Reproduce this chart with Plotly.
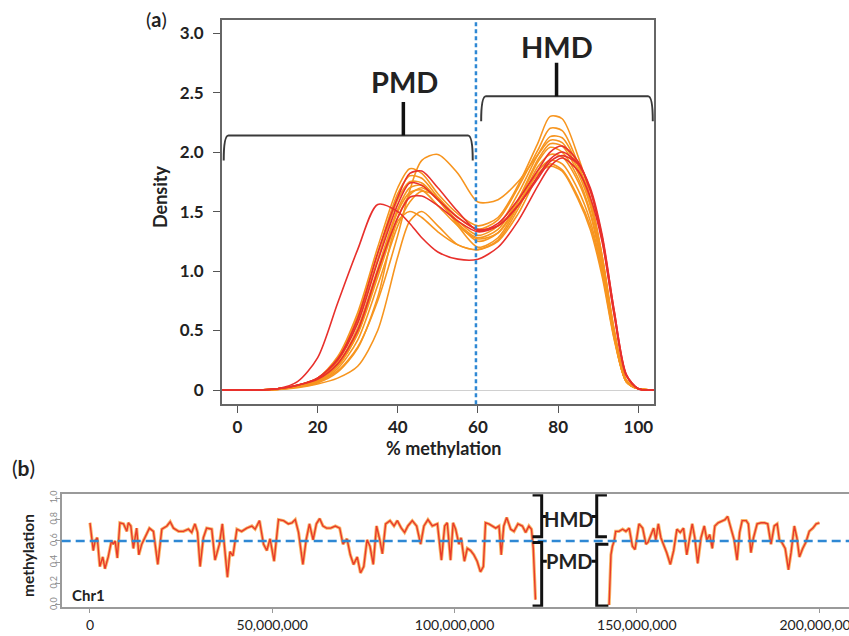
import plotly.graph_objects as go

# ---------------- Panel (a): density curves ----------------
meth_pct = [-4, 0, 5, 10, 15, 20, 25, 30, 35, 40, 43, 46, 50, 55, 60, 65, 70, 75, 78, 81, 85, 88, 91, 94, 97, 100, 104]

red_R1 = [0, 0, 0, 0.01, 0.07, 0.27, 0.73, 1.18, 1.56, 1.5, 1.4, 1.28, 1.16, 1.1, 1.1, 1.2, 1.42, 1.72, 1.88, 1.95, 1.84, 1.62, 1.24, 0.62, 0.12, 0.01, 0]
red_R2 = [0, 0, 0, 0.01, 0.04, 0.1, 0.26, 0.6, 1.15, 1.62, 1.82, 1.84, 1.7, 1.5, 1.34, 1.4, 1.6, 1.85, 2.0, 2.05, 1.92, 1.68, 1.26, 0.64, 0.12, 0.01, 0]
red_R3 = [0, 0, 0, 0.01, 0.04, 0.09, 0.22, 0.5, 1.0, 1.45, 1.62, 1.63, 1.55, 1.42, 1.33, 1.38, 1.55, 1.8, 1.94, 2.0, 1.9, 1.68, 1.28, 0.66, 0.13, 0.01, 0]
red_R4 = [0, 0, 0, 0.01, 0.04, 0.1, 0.25, 0.56, 1.08, 1.56, 1.74, 1.72, 1.6, 1.45, 1.35, 1.38, 1.55, 1.78, 1.92, 1.97, 1.9, 1.7, 1.3, 0.66, 0.13, 0.01, 0]

orange_O1 = [0, 0, 0, 0.005, 0.03, 0.07, 0.16, 0.36, 0.75, 1.3, 1.68, 1.93, 1.98, 1.82, 1.58, 1.6, 1.75, 1.98, 2.1, 2.08, 1.85, 1.58, 1.12, 0.5, 0.08, 0.01, 0]
orange_O2 = [0, 0, 0, 0.01, 0.04, 0.1, 0.28, 0.65, 1.2, 1.7, 1.86, 1.82, 1.65, 1.48, 1.38, 1.45, 1.72, 2.08, 2.3, 2.28, 1.96, 1.62, 1.12, 0.5, 0.08, 0.01, 0]
orange_O3 = [0, 0, 0, 0.01, 0.04, 0.1, 0.26, 0.62, 1.15, 1.65, 1.8, 1.78, 1.62, 1.45, 1.35, 1.43, 1.7, 2.02, 2.2, 2.18, 1.9, 1.6, 1.1, 0.48, 0.08, 0.01, 0]
orange_O4 = [0, 0, 0, 0.01, 0.04, 0.09, 0.24, 0.58, 1.1, 1.6, 1.75, 1.74, 1.6, 1.42, 1.3, 1.38, 1.65, 1.98, 2.13, 2.12, 1.88, 1.58, 1.1, 0.48, 0.08, 0.01, 0]
orange_O5 = [0, 0, 0, 0.01, 0.035, 0.08, 0.22, 0.52, 1.02, 1.52, 1.7, 1.72, 1.6, 1.4, 1.28, 1.35, 1.6, 1.94, 2.07, 2.05, 1.82, 1.55, 1.08, 0.47, 0.08, 0.01, 0]
orange_O6 = [0, 0, 0, 0.01, 0.03, 0.07, 0.2, 0.47, 0.95, 1.45, 1.64, 1.7, 1.6, 1.4, 1.25, 1.32, 1.58, 1.92, 2.04, 2.0, 1.78, 1.5, 1.05, 0.45, 0.07, 0.01, 0]
orange_O7 = [0, 0, 0, 0.005, 0.03, 0.07, 0.18, 0.42, 0.88, 1.38, 1.58, 1.67, 1.62, 1.38, 1.2, 1.28, 1.55, 1.88, 1.98, 1.96, 1.75, 1.48, 1.03, 0.45, 0.07, 0.01, 0]
orange_O8 = [0, 0, 0, 0.005, 0.025, 0.06, 0.15, 0.35, 0.78, 1.42, 1.5, 1.45, 1.33, 1.22, 1.18, 1.26, 1.52, 1.84, 1.93, 1.9, 1.68, 1.42, 1.0, 0.44, 0.07, 0.01, 0]
orange_O9 = [0, 0, 0, 0.005, 0.02, 0.05, 0.1, 0.2, 0.5, 1.12, 1.42, 1.5, 1.38, 1.22, 1.18, 1.25, 1.48, 1.8, 1.9, 1.85, 1.62, 1.38, 0.98, 0.43, 0.07, 0.01, 0]
orange_O10 = [0, 0, 0, 0.01, 0.03, 0.08, 0.2, 0.48, 0.98, 1.5, 1.66, 1.68, 1.55, 1.38, 1.27, 1.32, 1.55, 1.82, 1.88, 1.84, 1.6, 1.35, 0.95, 0.42, 0.07, 0.01, 0]

orange_curves = [orange_O1, orange_O2, orange_O3, orange_O4, orange_O5,
                 orange_O6, orange_O7, orange_O8, orange_O9, orange_O10]
red_curves = [red_R1, red_R2, red_R3, red_R4]

x_ticks_a = [0, 20, 40, 60, 80, 100]
y_ticks_a = [0, 0.5, 1.0, 1.5, 2.0, 2.5, 3.0]
y_ticklabels_a = ["0", "0.5", "1.0", "1.5", "2.0", "2.5", "3.0"]
threshold_pct = 59.5

# ---------------- Panel (b): Chr1 methylation profile (positions in Mb) ----------------
chr1_pos_mb = [
    0.0, 0.9, 1.4, 2.0, 2.7, 3.5, 4.1, 5.0, 5.9, 6.4, 6.9, 7.5, 8.2, 9.2, 10.1, 10.5, 11.2, 11.9, 12.8, 13.4,
    14.2, 15.1, 16.3, 17.4, 18.6, 19.7, 21.1, 22.0, 22.9, 24.3, 25.6, 27.0, 27.9, 28.8, 29.5, 30.2, 31.1, 32.0,
    33.4, 34.3, 35.5, 36.3, 37.0, 37.7, 38.4, 39.2, 40.3, 41.6, 43.0, 44.4, 45.3, 46.5, 47.6, 48.5, 49.4, 50.5,
    51.7, 53.1, 54.4, 55.4, 56.3, 57.2, 58.4, 59.3, 60.2, 61.2, 62.1, 63.0, 63.9, 64.9, 66.0, 67.3, 68.5, 69.4,
    70.5, 71.4, 72.3, 73.3, 74.2, 75.1, 76.0, 76.8, 77.7, 78.6, 79.5, 80.2, 81.1, 82.3, 83.4, 84.3, 85.4, 86.3,
    87.2, 88.4, 89.6, 90.7, 91.6, 92.7, 93.9, 95.3, 96.4, 97.3, 98.0, 98.9, 99.6, 100.3, 101.2, 101.8, 102.7,
    103.5, 104.4, 105.3, 106.2, 107.1, 107.9, 108.5, 109.4, 110.3, 111.3, 112.2, 112.8, 113.5, 114.3, 115.4,
    116.3, 117.4, 118.6, 119.5, 120.4, 121.1, 121.6, 122.2,
    None,
    142.4, 142.9, 143.3, 143.8, 144.2, 145.1, 146.1, 147.0, 147.9, 148.8, 149.5, 150.6, 151.6, 152.5, 153.1,
    153.8, 154.6, 155.2, 155.9, 156.6, 157.3, 158.2, 159.2, 160.1, 161.0, 161.9, 162.8, 163.7, 164.5, 165.2,
    165.9, 166.7, 167.6, 168.5, 169.2, 170.0, 170.7, 171.4, 172.3, 173.3, 174.2, 174.9, 175.8, 176.7, 177.5,
    178.2, 178.9, 180.0, 180.6, 181.3, 182.0, 183.0, 184.1, 185.0, 185.9, 186.8, 187.7, 188.5, 189.1, 189.7,
    190.7, 191.6, 192.3, 193.2, 193.9, 194.6, 195.5, 196.4, 197.3, 198.3, 199.2, 200.1,
]
chr1_meth = [
    0.77, 0.51, 0.60, 0.63, 0.36, 0.45, 0.34, 0.45, 0.60, 0.57, 0.60, 0.44, 0.77, 0.76, 0.69, 0.77, 0.74, 0.53, 0.72, 0.47,
    0.57, 0.63, 0.72, 0.69, 0.38, 0.71, 0.74, 0.78, 0.72, 0.69, 0.69, 0.71, 0.68, 0.76, 0.68, 0.36, 0.63, 0.72,
    0.71, 0.42, 0.57, 0.76, 0.53, 0.26, 0.50, 0.46, 0.71, 0.69, 0.72, 0.74, 0.71, 0.79, 0.57, 0.51, 0.62, 0.41,
    0.80, 0.79, 0.76, 0.77, 0.80, 0.68, 0.38, 0.61, 0.76, 0.61, 0.76, 0.81, 0.74, 0.72, 0.72, 0.74, 0.72, 0.57,
    0.62, 0.47, 0.38, 0.45, 0.30, 0.36, 0.61, 0.55, 0.38, 0.74, 0.61, 0.48, 0.76, 0.79, 0.74, 0.79, 0.72, 0.68,
    0.74, 0.79, 0.74, 0.57, 0.74, 0.80, 0.74, 0.76, 0.42, 0.74, 0.77, 0.42, 0.77, 0.71, 0.57, 0.63, 0.41,
    0.53, 0.51, 0.47, 0.41, 0.31, 0.36, 0.77, 0.76, 0.74, 0.72, 0.74, 0.47, 0.74, 0.82, 0.71,
    0.69, 0.76, 0.74, 0.68, 0.74, 0.71, 0.53, 0.05,
    None,
    0.00, 0.47, 0.55, 0.60, 0.69, 0.69, 0.71, 0.69, 0.72, 0.55, 0.52, 0.76, 0.72, 0.57, 0.59,
    0.66, 0.72, 0.61, 0.76, 0.63, 0.57, 0.49, 0.38, 0.51, 0.71, 0.68, 0.72, 0.47, 0.63, 0.76,
    0.63, 0.39, 0.63, 0.74, 0.61, 0.66, 0.53, 0.74, 0.77, 0.79, 0.80, 0.83, 0.71, 0.61, 0.42,
    0.68, 0.79, 0.79, 0.76, 0.49, 0.63, 0.76, 0.77, 0.77, 0.76, 0.57, 0.74, 0.76, 0.61, 0.59,
    0.53, 0.33, 0.49, 0.74, 0.63, 0.45, 0.53, 0.59, 0.69, 0.72, 0.76, 0.77,
]
chr1_pos_bp = [None if p is None else p * 1e6 for p in chr1_pos_mb]

x_ticks_b = [0, 50e6, 100e6, 150e6, 200e6]
x_ticklabels_b = ["0", "50,000,000", "100,000,000", "150,000,000", "200,000,000"]
y_ticks_b = [0, 0.2, 0.4, 0.6, 0.8, 1.0]
y_ticklabels_b = ["0.0", "0.2", "0.4", "0.6", "0.8", "1.0"]
threshold_frac = 0.6

# ---------------- styling ----------------
W, H = 849, 636
FONT = "Lato"
ORANGE = "#F7951F"
RED = "#E8302C"
BLUE = "#2E88D4"
DARK = "#222222"

def px_x(p):
    return p / W

def px_y(p):
    return 1 - p / H

fig = go.Figure()

for yv in orange_curves:
    fig.add_trace(go.Scatter(x=meth_pct, y=yv, mode="lines", xaxis="x", yaxis="y",
                             line=dict(color=ORANGE, width=1.6, shape="spline", smoothing=0.8),
                             hoverinfo="skip", showlegend=False))
for yv in red_curves:
    fig.add_trace(go.Scatter(x=meth_pct, y=yv, mode="lines", xaxis="x", yaxis="y",
                             line=dict(color=RED, width=1.6, shape="spline", smoothing=0.8),
                             hoverinfo="skip", showlegend=False))

# panel b: orange underlay + red line
fig.add_trace(go.Scatter(x=chr1_pos_bp, y=chr1_meth, mode="lines", xaxis="x2", yaxis="y2",
                         line=dict(color="rgba(247,150,40,0.7)", width=3.2),
                         connectgaps=False, hoverinfo="skip", showlegend=False))
fig.add_trace(go.Scatter(x=chr1_pos_bp, y=chr1_meth, mode="lines", xaxis="x2", yaxis="y2",
                         line=dict(color="#E83A2A", width=1.4),
                         connectgaps=False, hoverinfo="skip", showlegend=False))

shapes = []
# threshold lines
shapes.append(dict(type="line", xref="x", yref="y domain", x0=threshold_pct, x1=threshold_pct, y0=0, y1=1,
                   line=dict(color=BLUE, width=2.5, dash="4px,3px"), layer="above"))
shapes.append(dict(type="line", xref="x2 domain", yref="y2", x0=0, x1=1, y0=threshold_frac, y1=threshold_frac,
                   line=dict(color=BLUE, width=2.5, dash="9px,5px"), layer="above"))

BR = "#3a3a3a"
# panel a brackets (PMD, HMD)
def bracket_a(x0, x1, yh, ye, xs, ys):
    r = 1.2
    path = (f"M {x0},{ye} Q {x0},{yh} {x0 + r},{yh} L {x1 - r},{yh} Q {x1},{yh} {x1},{ye}")
    shapes.append(dict(type="path", xref="x", yref="y", path=path, line=dict(color=BR, width=2)))
    shapes.append(dict(type="line", xref="x", yref="y", x0=xs, x1=xs, y0=yh, y1=ys,
                       line=dict(color="#111111", width=3.5)))

bracket_a(-3.4, 58.7, 2.14, 1.93, 41.4, 2.42)
bracket_a(60.8, 103.6, 2.47, 2.26, 79.6, 2.75)

# panel b brackets
def bracket_b(xv, xe, ytop, ybot, xtick, ymid):
    path = f"M {xe},{ytop} L {xv},{ytop} L {xv},{ybot} L {xe},{ybot}"
    shapes.append(dict(type="path", xref="x2", yref="y2", path=path, line=dict(color="#111111", width=3)))
    shapes.append(dict(type="line", xref="x2", yref="y2", x0=xv, x1=xtick, y0=ymid, y1=ymid,
                       line=dict(color="#111111", width=3)))

bracket_b(123.9e6, 121.4e6, 1.03, 0.64, 125.3e6, 0.83)
bracket_b(123.9e6, 121.4e6, 0.585, -0.01, 125.3e6, 0.41)
bracket_b(139.0e6, 141.8e6, 1.03, 0.64, 137.6e6, 0.83)
bracket_b(139.0e6, 142.2e6, 0.57, -0.01, 137.6e6, 0.41)

def label(text, xp, yp, size, angle=0):
    return dict(text=text, x=px_x(xp), y=px_y(yp), xref="paper", yref="paper", showarrow=False,
                xanchor="center", yanchor="middle", textangle=angle,
                font=dict(family=FONT, size=size, color=DARK))

annotations = [
    label("(<b>a</b>)", 156, 19, 20),
    label("(<b>b</b>)", 23, 468, 21),
    label("<b>Density</b>", 160, 197, 18, -90),
    label("<b>% methylation</b>", 443, 448, 18),
    label("<b>methylation</b>", 28, 556, 15.5, -90),
    label("<b>Chr1</b>", 88, 595, 15),
    dict(text="<b>PMD</b>", x=41.6, y=2.59, xref="x", yref="y", showarrow=False,
         xanchor="center", yanchor="middle", font=dict(family=FONT, size=29, color=DARK)),
    dict(text="<b>HMD</b>", x=79.8, y=2.89, xref="x", yref="y", showarrow=False,
         xanchor="center", yanchor="middle", font=dict(family=FONT, size=29, color=DARK)),
    dict(text="<b>HMD</b>", x=131.4e6, y=0.81, xref="x2", yref="y2", showarrow=False,
         xanchor="center", yanchor="middle", font=dict(family=FONT, size=20, color=DARK)),
    dict(text="<b>PMD</b>", x=131.4e6, y=0.41, xref="x2", yref="y2", showarrow=False,
         xanchor="center", yanchor="middle", font=dict(family=FONT, size=20, color=DARK)),
]

fig.update_layout(
    width=W, height=H,
    margin=dict(l=0, r=0, t=0, b=0, autoexpand=False),
    paper_bgcolor="white", plot_bgcolor="white",
    font=dict(family=FONT, color=DARK),
    shapes=shapes, annotations=annotations,
    xaxis=dict(domain=[px_x(221.7), px_x(654)], anchor="y", range=[-3.9, 103.9], automargin=False,
               tickvals=x_ticks_a, ticks="outside", ticklen=7, tickwidth=1.2, tickcolor="#555",
               showline=True, linecolor="#666", linewidth=1.5, mirror=True,
               showgrid=False, zeroline=False,
               tickfont=dict(family=FONT, size=17, color=DARK, weight="bold")),
    yaxis=dict(domain=[px_y(404.3), px_y(20)], anchor="x", range=[-0.12, 3.11], automargin=False,
               tickvals=y_ticks_a, ticktext=y_ticklabels_a, ticks="outside", ticklen=7, tickwidth=1.2,
               tickcolor="#555", showline=True, linecolor="#666", linewidth=1.5, mirror=True,
               showgrid=False, zeroline=True, zerolinecolor="#d0d0d0", zerolinewidth=1,
               ticklabelstandoff=6,
               tickfont=dict(family=FONT, size=17, color=DARK, weight="bold")),
    xaxis2=dict(domain=[px_x(61.7), 1.0], anchor="y2", range=[-7.76e6, 208.2e6], automargin=False,
                tickvals=x_ticks_b, ticktext=x_ticklabels_b, ticks="outside", ticklen=5, tickwidth=1,
                tickcolor="#999", showline=True, linecolor="#9a9a9a", linewidth=1.5, mirror=True,
                showgrid=False, zeroline=False, ticklabeloverflow="allow",
                tickfont=dict(family=FONT, size=14, color=DARK)),
    yaxis2=dict(domain=[px_y(606.7), px_y(494.3)], anchor="x2", range=[-0.016, 1.037], automargin=False,
                tickvals=y_ticks_b, ticktext=y_ticklabels_b, ticks="outside", ticklen=5, tickwidth=1,
                tickcolor="#999", showline=True, linecolor="#9a9a9a", linewidth=1.5, mirror=True,
                showgrid=False, zeroline=False, tickangle=-90, ticklabelstandoff=-6,
                tickfont=dict(family=FONT, size=9, color="#8a8a8a")),
)

fig.write_html("out.html", config={"displayModeBar": False},
               post_script="document.body.style.margin='0';document.body.style.padding='0';")
